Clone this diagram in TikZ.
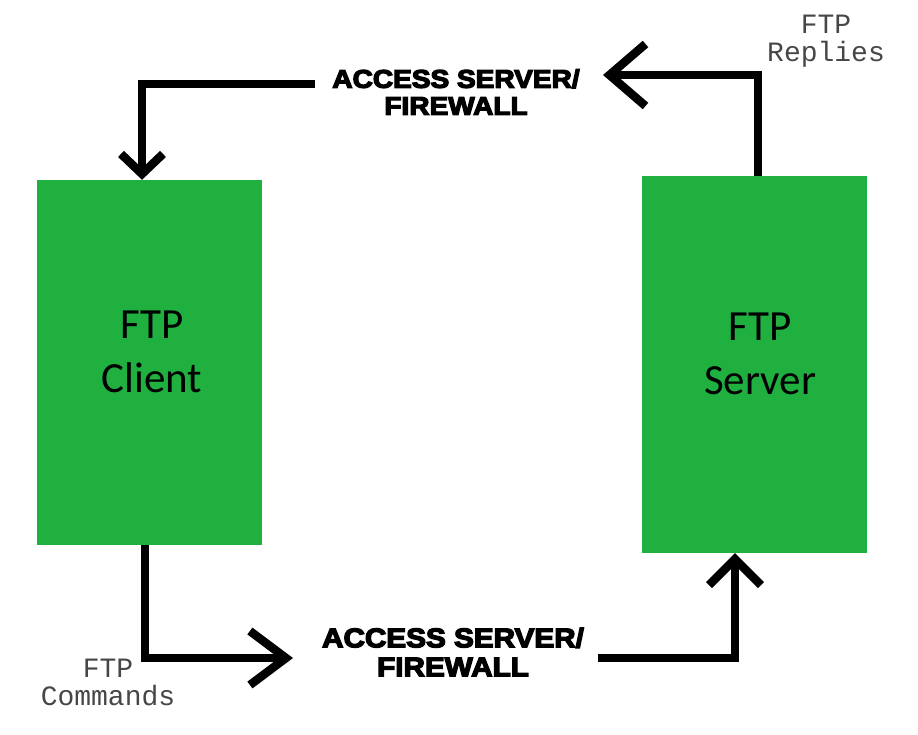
\documentclass[tikz,border=0pt]{standalone}
\usepackage{fontspec}
\setmainfont{Carlito}
\newfontfamily\heavy{Liberation Sans}[BoldFeatures={FakeBold=5,FakeStretch=1.1}]
\newfontfamily\mono{Liberation Mono}
\usetikzlibrary{arrows.meta}
\definecolor{boxgreen}{RGB}{31,176,64}
\definecolor{monogray}{RGB}{70,70,70}
\tikzset{
  hostbox/.style={fill=boxgreen, draw=none, inner sep=0pt},
  hosttext/.style={align=center, inner sep=0pt, font=\fontsize{43}{54}\selectfont},
  conn/.style={line width=8.5pt, black},
  gatelabel/.style={align=center, inner sep=0pt, font=\heavy\bfseries\fontsize{25.5}{27}\selectfont},
  monolabel/.style={align=center, inner sep=0pt, text=monogray, font=\mono\fontsize{28}{28}\selectfont},
}
\begin{document}
\begin{tikzpicture}[x=1pt,y=-1pt]
\useasboundingbox (0,0) rectangle (918,735);
% hosts
\node[hostbox, minimum width=225pt, minimum height=365pt] (cli) at (149.5,362.5) {};
\node[hostbox, minimum width=225pt, minimum height=377pt] (srv) at (754.5,364.5) {};
\node[hosttext] (clitext) at (152,352) {FTP\\Client};
\node[hosttext] (srvtext) at (760,354) {FTP\\Server};
% gateway labels
\node[gatelabel] (acc1) at (456,92) {ACCESS SERVER/\\FIREWALL};
\node[gatelabel, font=\heavy\bfseries\fontsize{27}{29}\selectfont] (acc2) at (453,652) {ACCESS SERVER/\\FIREWALL};
% mono labels
\node[monolabel] (rep) at (826,41) {FTP\\Replies};
\node[monolabel] (cmd) at (108,682) {FTP\\Commands};
% connector coordinates
\coordinate (tipA) at (603,75);
\coordinate (startB) at (315,84);
\coordinate (tipC) at (293,658);
\coordinate (startD) at (598,658);
% top route
\draw[conn, -{Straight Barb[length=36pt,width=62pt,sharp]}] ([xshift=3.5pt]srv.north) |- (tipA);
\draw[conn, -{Straight Barb[length=20pt,width=42pt,sharp]}] (startB) -| ([xshift=-7.5pt]cli.north);
% bottom route
\draw[conn, -{Straight Barb[length=36pt,width=54pt,sharp]}] ([xshift=-4.5pt]cli.south) |- (tipC);
\draw[conn, -{Straight Barb[length=26pt,width=52pt,sharp]}] (startD) -| ([xshift=-19.5pt]srv.south);
\end{tikzpicture}
\end{document}
